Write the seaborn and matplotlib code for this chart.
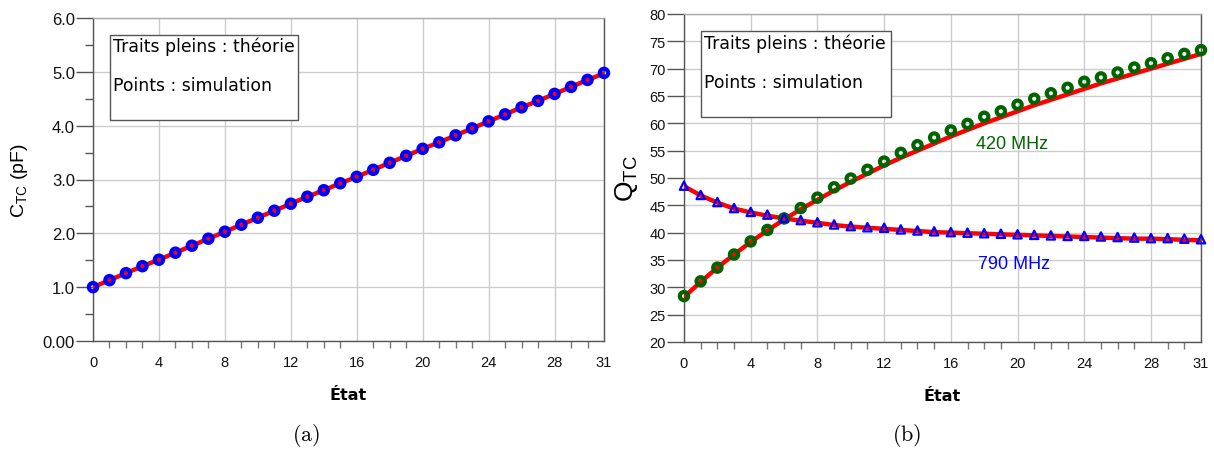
import numpy as np
import pandas as pd
import matplotlib
matplotlib.use("Agg")
import matplotlib.pyplot as plt
from matplotlib.patches import Rectangle
from matplotlib.ticker import MultipleLocator, FixedLocator, FuncFormatter
import seaborn as sns

# ---------------- data ----------------
etat = list(range(32))

c_sim = [1.00, 1.13, 1.26, 1.39, 1.51, 1.64, 1.77, 1.90, 2.03, 2.16, 2.29, 2.42,
         2.55, 2.68, 2.80, 2.93, 3.05, 3.18, 3.31, 3.44, 3.57, 3.69, 3.82, 3.95,
         4.08, 4.21, 4.34, 4.46, 4.59, 4.72, 4.85, 4.98]
c_theo = [1.00, 1.13, 1.26, 1.39, 1.51, 1.64, 1.77, 1.90, 2.03, 2.16, 2.29, 2.42,
          2.55, 2.68, 2.80, 2.93, 3.05, 3.18, 3.31, 3.44, 3.57, 3.69, 3.82, 3.95,
          4.08, 4.21, 4.34, 4.46, 4.59, 4.72, 4.85, 4.97]

q420_sim = [28.4, 31.1, 33.6, 36.0, 38.4, 40.5, 42.6, 44.5, 46.4, 48.3, 49.9, 51.5,
            53.0, 54.6, 56.0, 57.4, 58.7, 59.9, 61.2, 62.2, 63.4, 64.5, 65.5, 66.5,
            67.6, 68.4, 69.3, 70.2, 71.0, 71.9, 72.7, 73.4]
q420_theo = [28.2, 31.0, 33.6, 36.0, 38.3, 40.4, 42.4, 44.3, 46.0, 47.7, 49.3, 50.8,
             52.3, 53.7, 55.0, 56.3, 57.6, 58.8, 60.0, 61.1, 62.2, 63.3, 64.3, 65.3,
             66.3, 67.3, 68.2, 69.1, 70.0, 70.9, 71.8, 72.7]

q790_sim = [48.6, 46.9, 45.6, 44.5, 43.8, 43.3, 42.7, 42.3, 41.9, 41.5, 41.2, 41.0,
            40.9, 40.6, 40.4, 40.25, 40.1, 40.0, 39.9, 39.8, 39.7, 39.6, 39.5, 39.4,
            39.4, 39.3, 39.2, 39.1, 39.0, 39.0, 38.9, 38.8]
q790_theo = [48.5, 46.8, 45.5, 44.4, 43.7, 43.1, 42.6, 42.2, 41.8, 41.4, 41.1, 40.9,
             40.7, 40.5, 40.3, 40.1, 40.0, 39.9, 39.8, 39.7, 39.6, 39.5, 39.4, 39.3,
             39.2, 39.1, 39.0, 38.9, 38.9, 38.8, 38.7, 38.6]

x_ticks = [0, 4, 8, 12, 16, 20, 24, 28, 31]

# ---------------- style ----------------
sns.set_style("white")
plt.rcParams['font.family'] = ['Liberation Sans', 'DejaVu Sans']
plt.rcParams['axes.edgecolor'] = '#555555'
plt.rcParams['text.color'] = 'black'
plt.rcParams['axes.labelcolor'] = 'black'
plt.rcParams['xtick.labelcolor'] = '#111111'
plt.rcParams['ytick.labelcolor'] = '#111111'

fig = plt.figure(figsize=(12.14, 4.56), dpi=100)
ax1 = fig.add_axes([93 / 1214, 114 / 456, 511 / 1214, 323 / 456])
ax2 = fig.add_axes([684 / 1214, 113 / 456, 517 / 1214, 328 / 456])

RED = '#ff0000'
BLUE = '#0000ff'
GREEN = '#006400'

df_c = pd.DataFrame({'etat': etat, 'sim': c_sim, 'theo': c_theo})
df_q = pd.DataFrame({'etat': etat, 's420': q420_sim, 't420': q420_theo,
                     's790': q790_sim, 't790': q790_theo})

# ---- (a) capacitance ----
sns.lineplot(data=df_c, x='etat', y='theo', ax=ax1, color=RED, lw=3.2, zorder=3)
sns.scatterplot(data=df_c, x='etat', y='sim', ax=ax1, marker='o', s=36,
                facecolors='none', edgecolor=BLUE, linewidth=3.0, zorder=4, clip_on=False)

# ---- (b) quality factor ----
sns.lineplot(data=df_q, x='etat', y='t420', ax=ax2, color=RED, lw=3.2, zorder=3)
sns.lineplot(data=df_q, x='etat', y='t790', ax=ax2, color=RED, lw=3.2, zorder=3)
sns.scatterplot(data=df_q, x='etat', y='s420', ax=ax2, marker='o', s=36,
                facecolors='none', edgecolor=GREEN, linewidth=3.0, zorder=4, clip_on=False)
sns.scatterplot(data=df_q, x='etat', y='s790', ax=ax2, marker='^', s=36,
                facecolors='none', edgecolor=BLUE, linewidth=1.6, zorder=4, clip_on=False)

ax2.text(17.5, 56.4, '420 MHz', color=GREEN, fontsize=13, va='center', ha='left')
ax2.text(17.6, 34.3, '790 MHz', color=BLUE, fontsize=13, va='center', ha='left')

for ax in (ax1, ax2):
    ax.set_xlim(0, 31)
    ax.xaxis.set_major_locator(FixedLocator(x_ticks))
    ax.xaxis.set_minor_locator(MultipleLocator(1))
    ax.grid(True, which='major', color='#cccccc', lw=1.0)
    ax.set_axisbelow(True)
    ax.tick_params(axis='x', which='major', direction='out', length=7, width=1,
                   color='#555555', labelsize=10.5, pad=3)
    ax.tick_params(axis='x', which='minor', direction='out', length=5, width=1,
                   color='#777777', bottom=True)
    ax.tick_params(axis='y', which='major', direction='out', length=12, width=1,
                   color='#555555', pad=1, left=True)
    ax.spines['top'].set_color('#aaaaaa')
    ax.spines['right'].set_color('#555555')
    for s in ax.spines.values():
        s.set_linewidth(1.0)
    ax.set_xlabel('État', fontsize=11.5, fontweight='bold', family='DejaVu Sans',
                  labelpad=13)
    # text box
    ax.add_patch(Rectangle((0.033, 0.685), 0.368, 0.262, transform=ax.transAxes,
                           facecolor='white', edgecolor='#555555', lw=1.0, zorder=5))
    ax.text(0.039, 0.913, 'Traits pleins : théorie', transform=ax.transAxes,
            family='DejaVu Sans', fontsize=12.4, va='center', ha='left', zorder=6)
    ax.text(0.039, 0.792, 'Points : simulation', transform=ax.transAxes,
            family='DejaVu Sans', fontsize=12.4, va='center', ha='left', zorder=6)

ax1.set_ylim(0, 6)
ax1.yaxis.set_major_locator(MultipleLocator(1))
ax1.yaxis.set_minor_locator(MultipleLocator(0.5))
ax1.yaxis.set_major_formatter(FuncFormatter(lambda v, p: '0.00' if v == 0 else f'{v:.1f}'))
ax1.tick_params(axis='y', which='major', labelsize=12)
ax1.tick_params(axis='y', which='minor', direction='out', length=6, width=1,
                color='#555555', left=True)
ax1.set_ylabel(r'C$_{\mathregular{TC}}$ (pF)', fontsize=14, labelpad=9)

ax2.set_ylim(20, 80)
ax2.yaxis.set_major_locator(MultipleLocator(5))
ax2.tick_params(axis='y', which='major', labelsize=10.5)
ax2.set_ylabel(r'Q$_{\mathregular{TC}}$', fontsize=19, labelpad=7)

fig.text(306 / 1214, 1 - 436 / 456, r'$\mathrm{(a)}$', math_fontfamily='cm',
         fontsize=16, ha='center', va='center')
fig.text(907 / 1214, 1 - 436 / 456, r'$\mathrm{(b)}$', math_fontfamily='cm',
         fontsize=16, ha='center', va='center')

fig.savefig('out.png', dpi=100)
